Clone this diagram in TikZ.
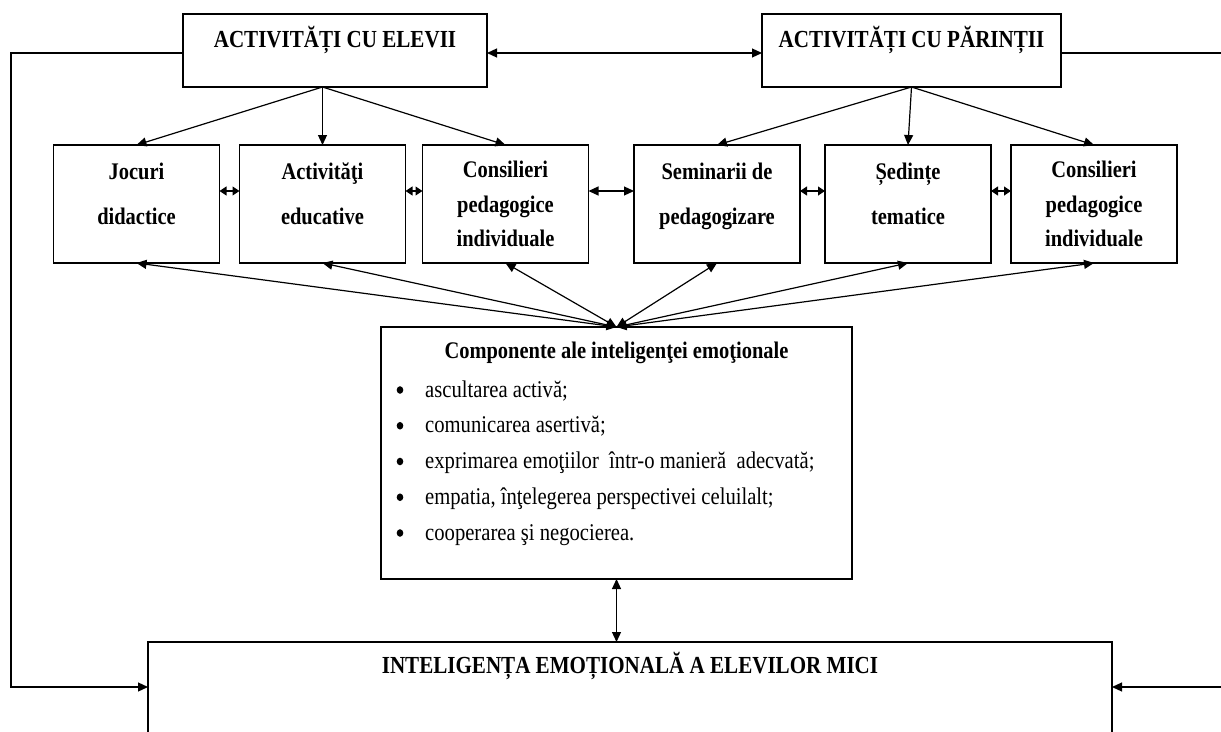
\documentclass[tikz,border=0pt]{standalone}
\usepackage{fontspec}
\setmainfont{Liberation Serif}[FakeStretch=0.86]
\usetikzlibrary{arrows.meta}
\begin{document}
\begin{tikzpicture}[x=1pt,y=-1pt,
  >={Triangle[length=10pt,width=9pt]},
  frame/.style={draw, line width=1.5pt, inner sep=0pt, outer sep=0pt},
  topbox/.style={frame, minimum height=73pt},
  midbox/.style={frame, minimum width=166pt, minimum height=118pt},
  hd/.style={inner sep=0pt, anchor=base, font=\bfseries\fontsize{24.5}{29}\selectfont},
  lbl/.style={inner sep=0pt, anchor=base, font=\bfseries\fontsize{23.8}{28}\selectfont},
  itm/.style={inner sep=0pt, anchor=base west, font=\fontsize{24}{29}\selectfont},
  con/.style={line width=1.2pt},
  shortlink/.style={con, {Triangle[length=7pt,width=9pt]}-{Triangle[length=7pt,width=9pt]}}]
\useasboundingbox (0,0) rectangle (1221,731);

% boxes
\node[topbox, minimum width=304pt] (A) at (335,50.5) {};
\node[topbox, minimum width=299pt] (B) at (911.5,50.5) {};
\node[midbox] (m1) at (136.5,204) {};
\node[midbox] (m2) at (322.5,204) {};
\node[midbox] (m3) at (505.5,204) {};
\node[midbox] (m4) at (717,204) {};
\node[midbox] (m5) at (908,204) {};
\node[midbox] (m6) at (1094,204) {};
\node[frame, minimum width=471pt, minimum height=252pt] (C) at (616.5,453) {};
\node[frame, minimum width=964pt, minimum height=160pt] (D) at (630,722) {};

% texts
\node[hd] (tA) at (335,47) {ACTIVITĂȚI CU ELEVII};
\node[hd] (tB) at (911.5,47) {ACTIVITĂȚI CU PĂRINȚII};
\node[lbl] (t1a) at (136.5,179) {Jocuri};
\node[lbl] (t1b) at (136.5,224) {didactice};
\node[lbl] (t2a) at (322.5,179) {Activităţi};
\node[lbl] (t2b) at (322.5,224) {educative};
\node[lbl] (t3a) at (505.5,177) {Consilieri};
\node[lbl] (t3b) at (505.5,212) {pedagogice};
\node[lbl] (t3c) at (505.5,246) {individuale};
\node[lbl] (t4a) at (717,179) {Seminarii de};
\node[lbl] (t4b) at (717,224) {pedagogizare};
\node[lbl] (t5a) at (908,179) {Ședințe};
\node[lbl] (t5b) at (908,224) {tematice};
\node[lbl] (t6a) at (1094,177) {Consilieri};
\node[lbl] (t6b) at (1094,212) {pedagogice};
\node[lbl] (t6c) at (1094,246) {individuale};
\node[lbl] (tC) at (616.5,358) {Componente ale inteligenţei emoţionale};
\node[itm] (i1) at (425,397) {ascultarea activă;};
\node[itm] (i2) at (425,432.75) {comunicarea asertivă;};
\node[itm] (i3) at (425,468.5) {exprimarea emoţiilor \ într-o manieră \ adecvată;};
\node[itm] (i4) at (425,504.25) {empatia, înţelegerea perspectivei celuilalt;};
\node[itm] (i5) at (425,540) {cooperarea şi negocierea.};
\foreach \yy in {390,425.75,461.5,497.25,533}
  \fill (400,\yy) ellipse [x radius=3.3pt, y radius=3.8pt];
\node[hd] (tD) at (630,673) {INTELIGENȚA EMOȚIONALĂ A ELEVILOR MICI};

% connectors
\coordinate (LT) at (11,53);
\coordinate (LB) at (11,687);
\coordinate (RT) at (1240,53);
\coordinate (RB) at (1240,687);
\draw[con,<->] ([yshift=-2.5pt]A.east) -- ([yshift=-2.5pt]B.west);
\draw[con,->] ([yshift=-2.5pt]A.west) -- (LT) -- (LB) -- ([yshift=-45pt]D.north west);
\draw[con,->] ([yshift=-2.5pt]B.east) -- (RT) -- (RB) -- ([yshift=-45pt]D.north east);
\foreach \m in {m1,m2,m3} \draw[con,->] ([xshift=-12.5pt]A.south) -- (\m.north);
\foreach \m in {m4,m5,m6} \draw[con,->] (B.south) -- (\m.north);
\draw[shortlink] ([yshift=13pt]m1.east) -- ([yshift=13pt]m2.west);
\draw[shortlink] ([yshift=13pt]m2.east) -- ([yshift=13pt]m3.west);
\draw[con,<->] ([yshift=13pt]m3.east) -- ([yshift=13pt]m4.west);
\draw[shortlink] ([yshift=13pt]m4.east) -- ([yshift=13pt]m5.west);
\draw[shortlink] ([yshift=13pt]m5.east) -- ([yshift=13pt]m6.west);
\foreach \m in {m1,m2,m3,m4,m5,m6} \draw[con,<->] (\m.south) -- (C.north);
\draw[con,<->] (C.south) -- (C.south |- D.north);
\end{tikzpicture}
\end{document}
